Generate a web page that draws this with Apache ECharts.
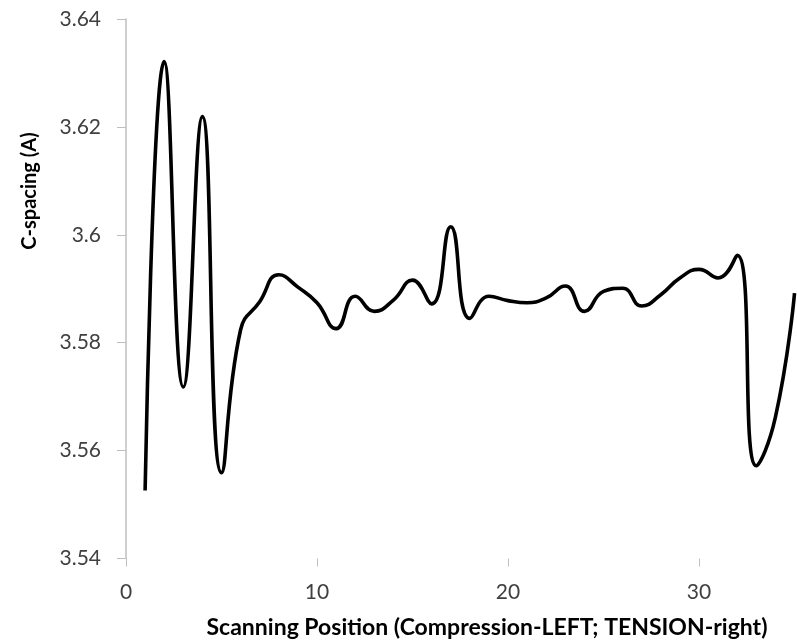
<!DOCTYPE html>
<html>
<head>
<meta charset="utf-8">
<script src="https://cdn.jsdelivr.net/npm/echarts@6/dist/echarts.min.js"></script>
<style>
html,body{margin:0;padding:0;background:#fff;}
#chart{width:797px;height:640px;}
</style>
</head>
<body>
<div id="chart"></div>
<script>
const positions = [1,2,3,4,5,6,7,8,9,10,11,12,13,14,15,16,17,18,19,20,21,22,23,24,25,26,27,28,29,30,31,32,33,34,35];
const cSpacing = [3.5526,3.6321,3.5718,3.6219,3.5559,3.5824,3.5876,3.5926,3.5903,3.5874,
                  3.5826,3.5886,3.5858,3.5879,3.5916,3.5872,3.6015,3.5845,3.5886,3.5878,
                  3.5874,3.5883,3.5905,3.5858,3.5895,3.5901,3.5868,3.5889,3.5920,3.5936,
                  3.5920,3.5962,3.5572,3.5662,3.5892];
const xTicks = [0, 10, 20, 30];
const xTitle = 'Scanning Position (Compression-LEFT; TENSION-right)';
const yTitle = 'C-spacing (A)';

const points = positions.map((p, i) => [p, cSpacing[i]]);
const chart = echarts.init(document.getElementById('chart'), null, {renderer: 'canvas'});
const axisGray = '#bfbfbf';
chart.setOption({
  animation: false,
  backgroundColor: '#fff',
  grid: {left: 126, top: 19, right: 0, height: 539.5, containLabel: false},
  xAxis: {
    type: 'value', min: 0, max: 35.13,
    axisLine: {show: false},
    axisTick: {show: true, inside: false, length: 8, customValues: xTicks, lineStyle: {color: axisGray, width: 1}},
    splitLine: {show: false},
    axisLabel: {margin: 23, color: '#404040', fontFamily: 'Lato', fontSize: 21, customValues: xTicks}
  },
  yAxis: {
    type: 'value', min: 3.54, max: 3.64, interval: 0.02,
    axisLine: {show: true, lineStyle: {color: axisGray, width: 1.5}},
    axisTick: {show: true, inside: false, length: 9, lineStyle: {color: axisGray, width: 1}},
    splitLine: {show: false},
    axisLabel: {margin: 25, color: '#404040', fontFamily: 'Lato', fontSize: 21}
  },
  graphic: [
    {type: 'text', x: 487, y: 628, style: {text: xTitle, fill: '#000', font: 'bold 23px Lato', textAlign: 'center', textVerticalAlign: 'middle'}},
    {type: 'text', x: 30, y: 191, rotation: Math.PI / 2, style: {text: yTitle, fill: '#000', font: 'bold 20px Lato', textAlign: 'center', textVerticalAlign: 'middle'}}
  ],
  series: [{
    type: 'line',
    data: points,
    smooth: 0.5,
    showSymbol: false,
    lineStyle: {color: '#000', width: 3.6},
    clip: false
  }]
});
</script>
</body>
</html>
